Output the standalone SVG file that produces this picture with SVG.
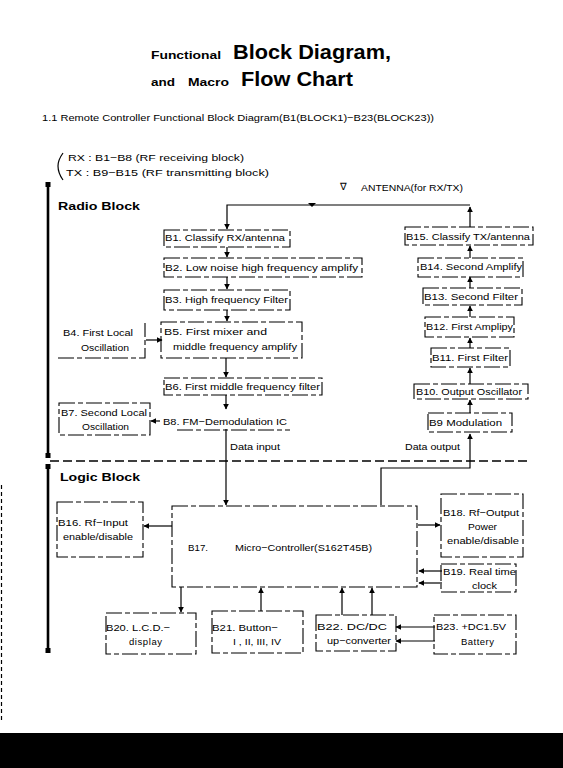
<svg xmlns="http://www.w3.org/2000/svg" width="563" height="768" viewBox="0 0 563 768">
<defs>
<style>
.t{font-family:"Liberation Sans",Arial,sans-serif;font-size:9.5px;fill:#000}
.h{font-family:"Liberation Sans",Arial,sans-serif;font-weight:bold;fill:#000}
.box{fill:none;stroke:#000;stroke-width:1.1;stroke-dasharray:16 3 5 3}
.ln{fill:none;stroke:#000;stroke-width:1.2}
.bar{stroke:#000;stroke-width:2.6}
</style>
<marker id="a" viewBox="0 0 10 10" refX="9" refY="5" markerWidth="6" markerHeight="6" markerUnits="userSpaceOnUse" orient="auto">
<path d="M0,0 L10,5 L0,10 z" fill="#000"/>
</marker>
</defs>
<rect width="563" height="768" fill="#fff"/>

<g id="title">
<text class="h" x="151" y="59" font-size="11" textLength="70" lengthAdjust="spacingAndGlyphs">Functional</text>
<text class="h" x="233" y="59" font-size="20" textLength="158" lengthAdjust="spacingAndGlyphs">Block Diagram,</text>
<text class="h" x="151" y="86" font-size="11" textLength="24" lengthAdjust="spacingAndGlyphs">and</text>
<text class="h" x="188" y="86" font-size="11" textLength="41" lengthAdjust="spacingAndGlyphs">Macro</text>
<text class="h" x="241" y="86" font-size="20" textLength="112" lengthAdjust="spacingAndGlyphs">Flow Chart</text>
<text class="t" x="42" y="121" textLength="392" lengthAdjust="spacingAndGlyphs">1.1 Remote Controller Functional Block Diagram(B1(BLOCK1)−B23(BLOCK23))</text>
<path d="M63,153 Q58,160 58,166 Q58,173 63,180" class="ln" stroke-width="1"/>
<text class="t" x="68" y="161" textLength="176" lengthAdjust="spacingAndGlyphs">RX : B1−B8 (RF receiving block)</text>
<text class="t" x="66" y="176" textLength="203" lengthAdjust="spacingAndGlyphs">TX : B9−B15 (RF transmitting block)</text>
<text class="t" x="340" y="190" font-size="10">∇</text>
<text class="t" x="361" y="191" textLength="102" lengthAdjust="spacingAndGlyphs">ANTENNA(for RX/TX)</text>
</g>

<g id="sections">
<line class="bar" x1="48" y1="185" x2="48" y2="456"/>
<rect x="45.5" y="182" width="5" height="5"/>
<rect x="45.5" y="453" width="5" height="5"/>
<line class="bar" x1="48" y1="467" x2="48" y2="651"/>
<rect x="45.5" y="464" width="5" height="5"/>
<rect x="45.5" y="648" width="5" height="5"/>
<line x1="50" y1="461" x2="527" y2="461" stroke="#000" stroke-width="1.3" stroke-dasharray="9 4"/>
<text class="h" x="58" y="210" font-size="11.5" textLength="82" lengthAdjust="spacingAndGlyphs">Radio Block</text>
<text class="h" x="60" y="481" font-size="11.5" textLength="80" lengthAdjust="spacingAndGlyphs">Logic Block</text>
</g>

<g id="connectors">
<path class="ln" d="M470,227 V207" marker-end="url(#a)"/>
<path class="ln" d="M470,205 H227 V229" marker-end="url(#a)"/>
<path d="M308,203 h8 l-4,4 z" fill="#000"/>
<path class="ln" d="M227,247 V257" marker-end="url(#a)"/>
<path class="ln" d="M227,277 V289" marker-end="url(#a)"/>
<path class="ln" d="M227,310 V321" marker-end="url(#a)"/>
<path class="ln" d="M146,340 H162" marker-end="url(#a)"/>
<path class="ln" d="M226,358 V377" marker-end="url(#a)"/>
<path class="ln" d="M226,395 V409" marker-end="url(#a)"/>
<path class="ln" d="M160,421 H151" marker-end="url(#a)"/>
<path class="ln" d="M226,429 V505" marker-end="url(#a)"/>
<path class="ln" d="M470,258 V246" marker-end="url(#a)"/>
<path class="ln" d="M470,288 V277" marker-end="url(#a)"/>
<path class="ln" d="M470,317 V306" marker-end="url(#a)"/>
<path class="ln" d="M470,348 V338" marker-end="url(#a)"/>
<path class="ln" d="M470,384 V368" marker-end="url(#a)"/>
<path class="ln" d="M470,413 V400" marker-end="url(#a)"/>
<path class="ln" d="M381,505 V468 H470 V434" marker-end="url(#a)"/>
<path class="ln" d="M172,526 H144" marker-end="url(#a)"/>
<path class="ln" d="M418,525 H440" marker-end="url(#a)"/>
<path class="ln" d="M442,571 H419" marker-end="url(#a)"/>
<path class="ln" d="M442,583 H419" marker-end="url(#a)"/>
<path class="ln" d="M181,587 V612" marker-end="url(#a)"/>
<path class="ln" d="M261,611 V588" marker-end="url(#a)"/>
<path class="ln" d="M342,615 V588" marker-end="url(#a)"/>
<path class="ln" d="M372,615 V588" marker-end="url(#a)"/>
<path class="ln" d="M435,627 H396" marker-end="url(#a)"/>
<path class="ln" d="M435,641 H396" marker-end="url(#a)"/>
</g>

<g id="B1"><rect class="box" x="164" y="230" width="126" height="17"/><text class="t" x="165" y="241" textLength="120" lengthAdjust="spacingAndGlyphs">B1. Classify RX/antenna</text></g>
<g id="B2"><rect class="box" x="164" y="258" width="198" height="19"/><text class="t" x="165" y="271" textLength="193" lengthAdjust="spacingAndGlyphs">B2. Low noise high frequency amplify</text></g>
<g id="B3"><rect class="box" x="164" y="290" width="126" height="20"/><text class="t" x="165" y="303" textLength="123" lengthAdjust="spacingAndGlyphs">B3. High frequency Filter</text></g>
<g id="B4"><path class="box" d="M58,358 H145 V323"/><text class="t" x="63" y="336" textLength="70" lengthAdjust="spacingAndGlyphs">B4. First Local</text><text class="t" x="81" y="351" textLength="48" lengthAdjust="spacingAndGlyphs">Oscillation</text></g>
<g id="B5"><rect class="box" x="161" y="322" width="141" height="36"/><text class="t" x="164" y="335" textLength="103" lengthAdjust="spacingAndGlyphs">B5. First mixer  and</text><text class="t" x="173" y="350" textLength="124" lengthAdjust="spacingAndGlyphs">middle frequency amplify</text></g>
<g id="B6"><rect class="box" x="164" y="378" width="158" height="17"/><text class="t" x="165" y="390" textLength="155" lengthAdjust="spacingAndGlyphs">B6. First middle frequency filter</text></g>
<g id="B7"><rect class="box" x="59" y="403" width="91" height="32"/><text class="t" x="61" y="416" textLength="86" lengthAdjust="spacingAndGlyphs">B7. Second Local</text><text class="t" x="82" y="430" textLength="47" lengthAdjust="spacingAndGlyphs">Oscillation</text></g>
<g id="B8"><path class="box" d="M177,430 H290"/><text class="t" x="163" y="425" textLength="124" lengthAdjust="spacingAndGlyphs">B8. FM−Demodulation IC</text><text class="t" x="230" y="450" textLength="50" lengthAdjust="spacingAndGlyphs">Data input</text></g>
<g id="B9"><rect class="box" x="428" y="413" width="84" height="19"/><text class="t" x="429" y="426" textLength="73" lengthAdjust="spacingAndGlyphs">B9  Modulation</text><text class="t" x="405" y="450" textLength="55" lengthAdjust="spacingAndGlyphs">Data output</text></g>
<g id="B10"><rect class="box" x="414" y="384" width="114" height="15"/><text class="t" x="416" y="395" textLength="106" lengthAdjust="spacingAndGlyphs">B10. Output Oscillator</text></g>
<g id="B11"><rect class="box" x="431" y="348" width="79" height="19"/><text class="t" x="432" y="361" textLength="76" lengthAdjust="spacingAndGlyphs">B11. First Filter</text></g>
<g id="B12"><rect class="box" x="425" y="317" width="89" height="20"/><text class="t" x="426" y="330" textLength="87" lengthAdjust="spacingAndGlyphs">B12. First Amplipy</text></g>
<g id="B13"><rect class="box" x="423" y="288" width="99" height="17"/><text class="t" x="424" y="300" textLength="94" lengthAdjust="spacingAndGlyphs">B13. Second Filter</text></g>
<g id="B14"><rect class="box" x="418" y="258" width="105" height="19"/><text class="t" x="420" y="270" textLength="102" lengthAdjust="spacingAndGlyphs">B14. Second Amplify</text></g>
<g id="B15"><rect class="box" x="405" y="227" width="128" height="18"/><text class="t" x="406" y="240" textLength="124" lengthAdjust="spacingAndGlyphs">B15. Classify TX/antenna</text></g>
<g id="B16"><rect class="box" x="57" y="502" width="86" height="55"/><text class="t" x="58" y="526" textLength="70" lengthAdjust="spacingAndGlyphs">B16. Rf−Input</text><text class="t" x="63" y="540" textLength="70" lengthAdjust="spacingAndGlyphs">enable/disable</text></g>
<g id="B17"><rect class="box" x="172" y="506" width="245" height="81"/><text class="t" x="188" y="551" textLength="20" lengthAdjust="spacingAndGlyphs">B17.</text><text class="t" x="235" y="551" textLength="137" lengthAdjust="spacingAndGlyphs">Micro−Controller(S162T45B)</text></g>
<g id="B18"><rect class="box" x="441" y="494" width="82" height="63"/><text class="t" x="443" y="516" textLength="76" lengthAdjust="spacingAndGlyphs">B18. Rf−Output</text><text class="t" x="468" y="530" textLength="29" lengthAdjust="spacingAndGlyphs">Power</text><text class="t" x="447" y="544" textLength="72" lengthAdjust="spacingAndGlyphs">enable/disable</text></g>
<g id="B19"><rect class="box" x="441" y="564" width="75" height="28"/><text class="t" x="443" y="575" textLength="73" lengthAdjust="spacingAndGlyphs">B19. Real time</text><text class="t" x="472" y="589" textLength="25" lengthAdjust="spacingAndGlyphs">clock</text></g>
<g id="B20"><rect class="box" x="106" y="613" width="90" height="41"/><text class="t" x="106" y="631" textLength="64" lengthAdjust="spacingAndGlyphs">B20. L.C.D.−</text><text class="t" x="129" y="645" textLength="33">display</text></g>
<g id="B21"><rect class="box" x="212" y="611" width="91" height="42"/><text class="t" x="212" y="631" textLength="66" lengthAdjust="spacingAndGlyphs">B21. Button−</text><text class="t" x="233" y="645" textLength="48" lengthAdjust="spacingAndGlyphs">I , II, III, IV</text></g>
<g id="B22"><rect class="box" x="316" y="615" width="80" height="36"/><text class="t" x="317" y="630" textLength="70" lengthAdjust="spacingAndGlyphs">B22. DC/DC</text><text class="t" x="327" y="644" textLength="64" lengthAdjust="spacingAndGlyphs">up−converter</text></g>
<g id="B23"><rect class="box" x="434" y="615" width="82" height="39"/><text class="t" x="436" y="630" textLength="70" lengthAdjust="spacingAndGlyphs">B23. +DC1.5V</text><text class="t" x="461" y="645" textLength="33">Battery</text></g>

<g id="scan">
<line x1="1.5" y1="485" x2="1.5" y2="720" stroke="#000" stroke-width="1.2" stroke-dasharray="4 3"/>
<rect x="0" y="733" width="563" height="35" fill="#000"/>
</g>
</svg>
